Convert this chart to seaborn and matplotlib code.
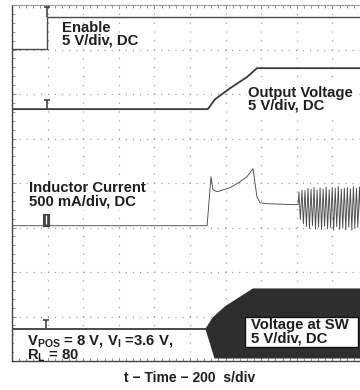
import numpy as np
import matplotlib
matplotlib.use("Agg")
import matplotlib.pyplot as plt
from matplotlib.path import Path
from matplotlib.patches import Rectangle
from matplotlib.ticker import MultipleLocator
import seaborn as sns

# ---- scope settings -------------------------------------------------------
T_DIV = 200                 # µs per division
N_XDIV, N_YDIV = 10, 8

# ground position of each channel (divisions above bottom of screen)
EN_GND, VO_GND, IL_GND, SW_GND = 7.01, 5.66, 3.04, 0.72
# vertical sensitivity: V/div, V/div, mA/div, V/div
EN_SCALE, VO_SCALE, IL_SCALE, SW_SCALE = 5.0, 5.0, 500.0, 5.0

# ---- captured waveforms ---------------------------------------------------
enable_t = [0, 196, 196, 2000]
enable_v = [0.0, 0.0, 3.6, 3.6]

vout_t = [0, 1100, 1140, 1225, 1320, 1376, 2000]
vout_v = [0.0, 0.0, 1.1, 2.35, 3.6, 4.6, 4.6]

il_t = [0, 1096, 1118, 1129, 1152, 1225, 1281, 1320, 1354, 1365, 1376, 1393,
        1433, 1607,
        1612, 1620, 1629, 1637, 1646, 1654, 1663, 1671, 1680, 1688, 1697, 1705,
        1714, 1722, 1731, 1739, 1748, 1756, 1765, 1773, 1782, 1790, 1799, 1807,
        1816, 1824, 1833, 1841, 1850, 1858, 1867, 1875, 1884, 1892, 1901, 1909,
        1918, 1926, 1935, 1943, 1952, 1960, 1969, 1977, 1986, 1994]
il_ma = [0, 0, 551, 404, 382, 427, 494, 551, 641, 483, 326, 258,
         247, 236,
         380, 70, 400, 20, 395, -10, 420, -30, 410, 0, 430, -40, 400, -15,
         425, -45, 415, -5, 435, -35, 405, -20, 430, -50, 420, -10, 440, -40,
         410, -25, 425, -45, 430, -15, 415, -50, 440, -30, 420, -20, 435, -45,
         410, -35, 430, -25]

sw_t = [0, 1090]
sw_v = [0.0, 0.0]
sw_hi_t = [1090, 1129, 1197, 1354, 2000]
sw_hi_v = [0.0, 1.24, 2.47, 4.49, 4.49]
sw_lo_t = [1090, 1140, 2000]
sw_lo_v = [0.0, -3.26, -3.26]


def to_div(values, gnd, scale):
    return [gnd + v / scale for v in values]


# ---- figure ---------------------------------------------------------------
sns.set_theme(style="white")
plt.rcParams["font.family"] = ["Liberation Sans", "DejaVu Sans"]
plt.rcParams["mathtext.fontset"] = "custom"
plt.rcParams["mathtext.bf"] = "Liberation Sans:bold"
plt.rcParams["mathtext.rm"] = "Liberation Sans:bold"
plt.rcParams["lines.scale_dashes"] = False

W, H = 360, 390
fig = plt.figure(figsize=(W / 100, H / 100), dpi=100)
fig.patch.set_facecolor("white")

L, T, R, B = 12, 5, 368, 361          # screen edges in pixels
pos = [L / W, 1 - B / H, (R - L) / W, (B - T) / H]
ax = fig.add_axes(pos)
ax.set_xlim(0, N_XDIV * T_DIV)
ax.set_ylim(0, N_YDIV)
ax.set_facecolor("white")

# graticule
ax.xaxis.set_major_locator(MultipleLocator(T_DIV))
ax.xaxis.set_minor_locator(MultipleLocator(T_DIV / 5))
ax.yaxis.set_major_locator(MultipleLocator(1))
ax.yaxis.set_minor_locator(MultipleLocator(0.2))
ax.set_axisbelow(True)
ax.grid(axis="x", which="major", color="#9a9a9a", lw=0.9,
        linestyle=(0, (0.8, 5.6)))
ax.grid(axis="y", which="major", color="#9a9a9a", lw=0.9,
        linestyle=(0, (0.8, 4.3)))
ax.tick_params(which="both", direction="in", top=True, bottom=True,
               left=True, right=True, labelbottom=False, labelleft=False,
               color="#808080", width=0.6)
ax.tick_params(which="major", length=3)
ax.tick_params(which="minor", length=2)
for side in ("left", "bottom"):
    ax.spines[side].set_color("#444444")
    ax.spines[side].set_linewidth(1.0)
ax.spines["top"].set_color("#8a8a8a")
ax.spines["top"].set_linewidth(0.8)
ax.spines["top"].set_linestyle((0, (1.0, 1.2)))
ax.spines["right"].set_visible(False)

# centre cross-hair with minor ticks
ax2 = fig.add_axes(pos, facecolor="none")
ax2.set_xlim(ax.get_xlim())
ax2.set_ylim(ax.get_ylim())
ax2.spines["left"].set_position(("data", N_XDIV * T_DIV / 2))
ax2.spines["bottom"].set_position(("data", N_YDIV / 2))
for side in ("left", "bottom"):
    ax2.spines[side].set_color("none")
for side in ("right", "top"):
    ax2.spines[side].set_visible(False)
ax2.xaxis.set_major_locator(MultipleLocator(T_DIV))
ax2.xaxis.set_minor_locator(MultipleLocator(T_DIV / 5))
ax2.yaxis.set_major_locator(MultipleLocator(1))
ax2.yaxis.set_minor_locator(MultipleLocator(0.2))
ax2.tick_params(which="both", direction="inout", labelbottom=False,
                labelleft=False, color="#8a8a8a", width=0.6)
ax2.tick_params(which="major", length=4)
ax2.tick_params(which="minor", length=3)

TRACE = "#3a3a3a"
kw = dict(ax=ax, estimator=None, sort=False, legend=False)

sns.lineplot(x=enable_t, y=to_div(enable_v, EN_GND, EN_SCALE), lw=1.0,
             color="#4a4a4a", **kw)
sns.lineplot(x=vout_t, y=to_div(vout_v, VO_GND, VO_SCALE), lw=1.3,
             color=TRACE, **kw)
sns.lineplot(x=il_t, y=to_div(il_ma, IL_GND, IL_SCALE), lw=0.65,
             color="#4c4c4c", **kw)
sns.lineplot(x=sw_t, y=to_div(sw_v, SW_GND, SW_SCALE), lw=1.3,
             color=TRACE, **kw)

# switch node: switching too fast to resolve, shown as its envelope
sw_poly_t = sw_hi_t + sw_lo_t[::-1]
sw_poly_y = to_div(sw_hi_v, SW_GND, SW_SCALE) + to_div(sw_lo_v, SW_GND, SW_SCALE)[::-1]
ax.fill(sw_poly_t, sw_poly_y, color="#2e2e2e", lw=0.8, ec="#2e2e2e", zorder=3)

# channel reference markers
t_mark = Path([(0, 0), (0, 1), (-0.33, 1), (0.33, 1)],
              [Path.MOVETO, Path.LINETO, Path.MOVETO, Path.LINETO])
mk = dict(marker=t_mark, ls="none", color="#444444", mew=1.2, mfc="none")
ax.plot([196], [EN_GND + 3.6 / EN_SCALE], ms=15, **mk)
ax.plot([196], [VO_GND], ms=13, **mk)
ax.plot([190], [SW_GND], ms=13, **mk)
box_mark = Path([(-0.25, 0), (-0.25, 1), (0.25, 1), (0.25, 0), (-0.25, 0)])
ax.plot([191], [IL_GND], marker=box_mark, ms=17, ls="none",
        mfc="#444444", mec="#444444", mew=0.8)
ax.plot([191], [IL_GND + 0.03], marker=Path([(0, 0), (0, 1)]), ms=13,
        ls="none", mec="white", mew=0.9)

# ---- annotations ----------------------------------------------------------
FS = 10.7
txt = dict(fontsize=FS, fontweight="bold", color="#1e1e1e", va="top",
           ha="left", linespacing=0.9)
white = dict(boxstyle="square,pad=0.1", fc="white", ec="none")


def fx(px):
    return px / W


def fy(py):
    return 1 - py / H


fig.text(fx(62), fy(20.5), "Enable\n5 V/div, DC", **txt)
fig.text(fx(248), fy(85.5), "Output Voltage\n5 V/div, DC", bbox=white, **txt)
fig.text(fx(29), fy(181.5), "Inductor Current\n500 mA/div, DC", bbox=white, **txt)

fig.add_artist(Rectangle((fx(245), fy(347)), fx(358) - fx(245), fy(317) - fy(347),
                         transform=fig.transFigure, fc="white", ec="#111111",
                         lw=1.0, zorder=4))
fig.text(fx(251), fy(318.5), "Voltage at SW\n5 V/div, DC", zorder=5, **txt)

fig.add_artist(Rectangle((fx(14), fy(358)), fx(168) - fx(14), fy(331) - fy(358),
                         transform=fig.transFigure, fc="white", ec="none",
                         zorder=4))
fig.text(fx(27), fy(333.5), "V$_\\mathbf{POS}$ = 8 V, V$_\\mathbf{I}$ =3.6 V,\n"
         "R$_\\mathbf{L}$ = 80", zorder=5, **dict(txt, linespacing=0.8))

fig.text(fx(190), fy(378), "t \u2212 Time \u2212 200  s/div", fontsize=10,
         fontweight="bold", color="#1e1e1e", ha="center", va="center")

fig.savefig("out.png", dpi=100, facecolor="white")
